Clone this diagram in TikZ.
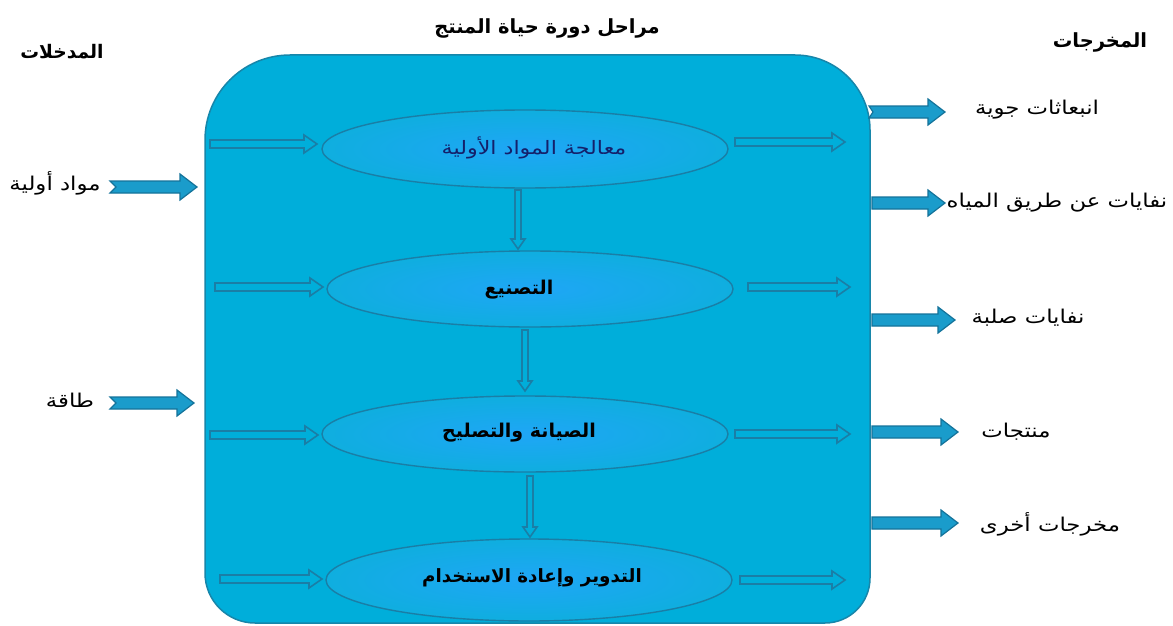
\documentclass[tikz,border=0pt]{standalone}
\usepackage{fontspec}
\usetikzlibrary{shapes.geometric}
\TeXXeTstate=1
\newfontfamily\arfont[Script=Arabic,FakeStretch=1.2]{DejaVu Sans}
\newfontfamily\arbfont[Script=Arabic]{DejaVu Sans}
\newcommand{\rtl}[1]{\beginR #1\endR}
\definecolor{boxfill}{HTML}{00AEDA}
\definecolor{boxline}{HTML}{1786AA}
\definecolor{ellin}{HTML}{1FA6F6}
\definecolor{ellout}{HTML}{0FAEDF}
\definecolor{ellline}{HTML}{1A7EA6}
\definecolor{outarrow}{HTML}{1A9CCB}
\definecolor{outline}{HTML}{14739A}
\definecolor{navytext}{HTML}{14206A}
% horizontal block arrow: #1 style, x1, x2, y, shaft half, head half, head len, notch
\newcommand{\harrowshape}[8]{%
  \path[#1] (#2,#4-#5) -- (#3-#7,#4-#5) -- (#3-#7,#4-#6) -- (#3,#4)
    -- (#3-#7,#4+#6) -- (#3-#7,#4+#5) -- (#2,#4+#5) -- (#2+#8,#4) -- cycle;}
\newcommand{\varrowshape}[7]{%
  \path[#1] (#2-#5,#3) -- (#2+#5,#3) -- (#2+#5,#4-#7) -- (#2+#6,#4-#7) -- (#2,#4)
    -- (#2-#6,#4-#7) -- (#2-#5,#4-#7) -- cycle;}
\begin{document}
\begin{tikzpicture}[x=1pt,y=-1pt,
  lbl/.style={font=\arfont\fontsize{19}{22}\selectfont, inner sep=0pt, text=black},
  head/.style={font=\arbfont\bfseries\fontsize{19.5}{22}\selectfont, inner sep=0pt, text=black},
  stage/.style={ellipse, draw=ellline, line width=1.4pt, inner color=ellin, outer color=ellout,
     minimum width=406pt, minimum height=78pt, inner sep=0pt},
  stagetext/.style={font=\arbfont\bfseries\fontsize{19}{22}\selectfont, inner sep=0pt, text=black},
  outarr/.style={fill=outarrow, draw=outline, line width=1.2pt, line join=miter},
  inarr/.style={fill=boxfill, draw=ellline, line width=1.6pt, line join=miter}]
\useasboundingbox[fill=white] (0,0) rectangle (1173,626);

% big container
\path[fill=boxfill, draw=boxline, line width=1.5pt]
  (205,340) [rounded corners=85pt] -- (205,55) [rounded corners=75pt] -- (870,55)
  [rounded corners=45pt] -- (870,623) [rounded corners=50pt] -- (205,623) [sharp corners] -- cycle;

% stages
\node[stage] (e1) at (525,149) {};
\node[stage, minimum height=76pt] (e2) at (530,289) {};
\node[stage, minimum height=76pt] (e3) at (525,434) {};
\node[stage, minimum height=82pt] (e4) at (529,580) {};
\node[lbl, text=navytext, font=\arfont\fontsize{18.5}{22}\selectfont] (t1) at (534,148) {\rtl{معالجة المواد الأولية}};
\node[stagetext] (t2) at (519,290) {\rtl{التصنيع}};
\node[stagetext] (t3) at (519,433) {\rtl{الصيانة والتصليح}};
\node[stagetext, font=\arbfont\bfseries\fontsize{18.3}{22}\selectfont] (t4) at (532,578) {\rtl{التدوير وإعادة الاستخدام}};

% inner arrows (left)
\harrowshape{inarr}{210}{317}{144}{4}{9}{13}{0}
\harrowshape{inarr}{215}{323}{287}{4}{9}{13}{0}
\harrowshape{inarr}{210}{318}{435}{4}{9}{13}{0}
\harrowshape{inarr}{220}{322}{579}{4}{9}{13}{0}
% inner arrows (right)
\harrowshape{inarr}{735}{845}{142}{4}{9}{13}{0}
\harrowshape{inarr}{748}{850}{287}{4}{9}{13}{0}
\harrowshape{inarr}{735}{850}{434}{4}{9}{13}{0}
\harrowshape{inarr}{740}{845}{580}{4}{9}{13}{0}
% vertical arrows
\varrowshape{inarr}{518}{190}{249}{3}{7}{10}
\varrowshape{inarr}{525}{330}{391}{3}{7}{10}
\varrowshape{inarr}{530}{476}{537}{3}{7}{10}

% headings
\node[head, font=\arbfont\bfseries\fontsize{18.7}{22}\selectfont] (hin) at (62,52) {\rtl{المدخلات}};
\node[head] (htitle) at (547,28) {\rtl{مراحل دورة حياة المنتج}};
\node[head] (hout) at (1100,42) {\rtl{المخرجات}};

% inputs
\node[lbl] (in1) at (55,183) {\rtl{مواد أولية}};
\node[lbl] (in2) at (70,400) {\rtl{طاقة}};
\harrowshape{outarr}{110}{197}{187}{6}{13}{17}{6}
\harrowshape{outarr}{110}{194}{403}{6}{13}{17}{6}

% outputs
\node[lbl] (o1) at (1037,110) {\rtl{انبعاثات جوية}};
\node[lbl] (o2) at (1057,203) {\rtl{نفايات عن طريق المياه}};
\node[lbl] (o3) at (1028,318) {\rtl{نفايات صلبة}};
\node[lbl] (o4) at (1016,432) {\rtl{منتجات}};
\node[lbl] (o5) at (1050,524) {\rtl{مخرجات أخرى}};
\harrowshape{outarr}{869}{945}{112}{6}{13}{17}{4}
\harrowshape{outarr}{872}{945}{203}{6}{13}{17}{0}
\harrowshape{outarr}{872}{955}{320}{6}{13}{17}{0}
\harrowshape{outarr}{872}{958}{432}{6}{13}{17}{0}
\harrowshape{outarr}{872}{958}{523}{6}{13}{17}{0}
\end{tikzpicture}
\end{document}
